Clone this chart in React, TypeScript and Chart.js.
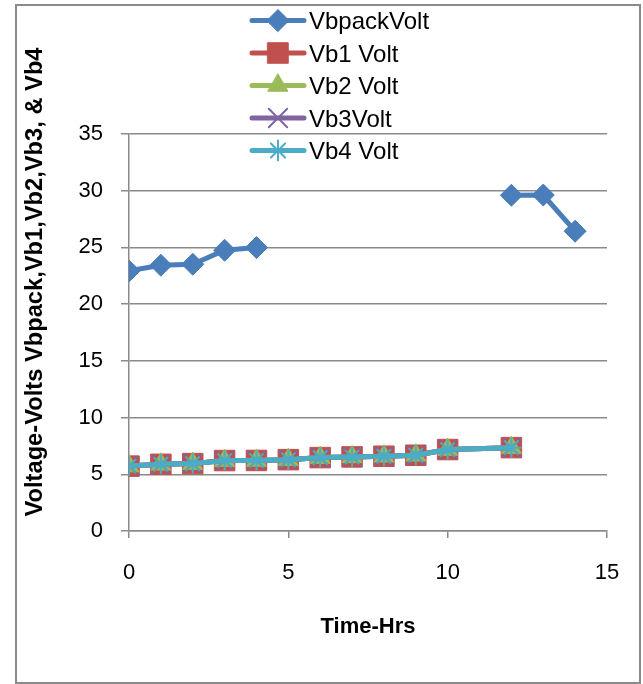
import React, { useEffect, useRef } from 'react';
import { Chart, registerables } from 'chart.js';
import { drawPoint } from 'chart.js/helpers';

Chart.register(...registerables);

// ---- data ----
const hours = [0, 1, 2, 3, 4, 5, 6, 7, 8, 9, 10, 12, 13, 14];
const vbpackVolt = [22.93, 23.43, 23.52, 24.75, 24.99, null, null, null, null, null, null, 29.6, 29.62, 26.43];
const vb1Volt = [5.72, 5.88, 5.94, 6.21, 6.22, 6.29, 6.47, 6.53, 6.59, 6.68, 7.18, 7.35, null, null];
const vb2Volt = [5.72, 5.88, 5.94, 6.21, 6.22, 6.29, 6.47, 6.53, 6.59, 6.68, 7.18, 7.35, null, null];
const vb3Volt = [5.72, 5.88, 5.94, 6.21, 6.22, 6.29, 6.47, 6.53, 6.59, 6.68, 7.18, 7.35, null, null];
const vb4Volt = [5.72, 5.88, 5.94, 6.21, 6.22, 6.29, 6.47, 6.53, 6.59, 6.68, 7.18, 7.35, null, null];
const seriesNames = ['VbpackVolt', 'Vb1 Volt', 'Vb2 Volt', 'Vb3Volt', 'Vb4 Volt'];
const seriesValues = [vbpackVolt, vb1Volt, vb2Volt, vb3Volt, vb4Volt];
const xTickValues = [0, 5, 10, 15];
const yTickValues = [0, 5, 10, 15, 20, 25, 30, 35];
const xTitle = 'Time-Hrs';
const yTitle = 'Voltage-Volts Vbpack,Vb1,Vb2,Vb3, & Vb4';

// ---- styles ----
const FONT = "'Liberation Sans', Arial, sans-serif";
const seriesStyles = [
  { color: '#4A7EBB', pointStyle: 'rectRot', radius: 11, borderWidth: 1 },
  { color: '#C0504D', pointStyle: 'rect', radius: 14.5, borderWidth: 1 },
  { color: '#9BBB59', pointStyle: 'triangle', radius: 11.5, borderWidth: 1 },
  { color: '#8064A2', pointStyle: 'crossRot', radius: 13, borderWidth: 2 },
  { color: '#4BACC6', pointStyle: 'star', radius: 10, borderWidth: 2 },
];

const decorPlugin = {
  id: 'decor',
  beforeDraw(chart: any) {
    const ctx = chart.ctx;
    ctx.save();
    ctx.fillStyle = '#ffffff';
    ctx.fillRect(0, 0, chart.width, chart.height);
    ctx.restore();
  },
  afterDraw(chart: any) {
    const ctx = chart.ctx;
    ctx.save();
    // outer border
    ctx.strokeStyle = '#8a8a8a';
    ctx.lineWidth = 2;
    ctx.strokeRect(16, 5, 624, 678);

    // x title
    ctx.fillStyle = '#000';
    ctx.font = `bold 22px ${FONT}`;
    ctx.textAlign = 'center';
    ctx.textBaseline = 'alphabetic';
    const ca = chart.chartArea;
    ctx.fillText(xTitle, (ca.left + ca.right) / 2, 633);

    // y title
    ctx.save();
    ctx.translate(42, 282);
    ctx.rotate(-Math.PI / 2);
    ctx.font = `bold 23.7px ${FONT}`;
    ctx.fillText(yTitle, 0, 0);
    ctx.restore();

    // legend
    const ys = [20.5, 53, 85.5, 118, 150.5];
    seriesNames.forEach((name, i) => {
      const st = seriesStyles[i];
      const y = ys[i];
      ctx.strokeStyle = st.color;
      ctx.lineWidth = 5;
      ctx.lineCap = 'round';
      ctx.beginPath();
      ctx.moveTo(252, y);
      ctx.lineTo(304, y);
      ctx.stroke();
      ctx.fillStyle = st.color;
      ctx.strokeStyle = st.color;
      ctx.lineWidth = st.borderWidth;
      drawPoint(ctx, { pointStyle: st.pointStyle, radius: st.radius, borderWidth: st.borderWidth, rotation: 0 } as any, 278, y);
      ctx.fillStyle = '#000';
      ctx.font = `24px ${FONT}`;
      ctx.textAlign = 'left';
      ctx.textBaseline = 'alphabetic';
      ctx.fillText(name, 309, y + 8.6);
    });
    ctx.restore();
  },
};

export default function App() {
  const canvasRef = useRef<HTMLCanvasElement | null>(null);

  useEffect(() => {
    if (!canvasRef.current) return;
    const datasets = seriesValues.map((vals, i) => {
      const st = seriesStyles[i];
      return {
        label: seriesNames[i],
        data: hours.map((h, j) => ({ x: h, y: vals[j] })),
        showLine: true,
        spanGaps: false,
        borderColor: st.color,
        backgroundColor: st.color,
        borderWidth: 5,
        tension: 0,
        pointStyle: st.pointStyle,
        pointRadius: st.radius,
        pointBorderWidth: st.borderWidth,
        pointBorderColor: st.color,
        pointBackgroundColor: st.color,
        order: seriesValues.length - 1 - i,
      };
    });

    const chart = new Chart(canvasRef.current, {
      type: 'scatter',
      data: { datasets: datasets as any },
      options: {
        animation: false,
        responsive: false,
        events: [],
        layout: { padding: { left: 0, top: 134, right: 36, bottom: 0 } },
        plugins: { legend: { display: false }, tooltip: { enabled: false } },
        scales: {
          x: {
            type: 'linear',
            min: 0,
            max: 15,
            afterFit: (s: any) => { s.height = 153; },
            afterBuildTicks: (s: any) => { s.ticks = xTickValues.map((v) => ({ value: v })); },
            grid: { drawOnChartArea: false, drawTicks: true, tickLength: 7, color: '#8a8a8a', lineWidth: 1.5 },
            border: { display: true, color: '#8a8a8a', width: 1.5 },
            ticks: { color: '#000', font: { family: FONT, size: 22 }, padding: 22, maxRotation: 0 },
          },
          y: {
            type: 'linear',
            min: 0,
            max: 35,
            afterFit: (s: any) => { s.width = 129; },
            afterBuildTicks: (s: any) => { s.ticks = yTickValues.map((v) => ({ value: v })); },
            grid: { drawOnChartArea: true, drawTicks: true, tickLength: 8, color: '#8a8a8a', lineWidth: 1.5 },
            border: { display: true, color: '#8a8a8a', width: 1.5 },
            ticks: { color: '#000', font: { family: FONT, size: 22 }, padding: 18 },
          },
        },
      },
      plugins: [decorPlugin],
    });
    return () => chart.destroy();
  }, []);

  return (
    <div style={{ position: 'absolute', left: 0, top: 0, width: 643, height: 684, background: '#fff' }}>
      <canvas ref={canvasRef} width={643} height={684} style={{ display: 'block' }} />
    </div>
  );
}
